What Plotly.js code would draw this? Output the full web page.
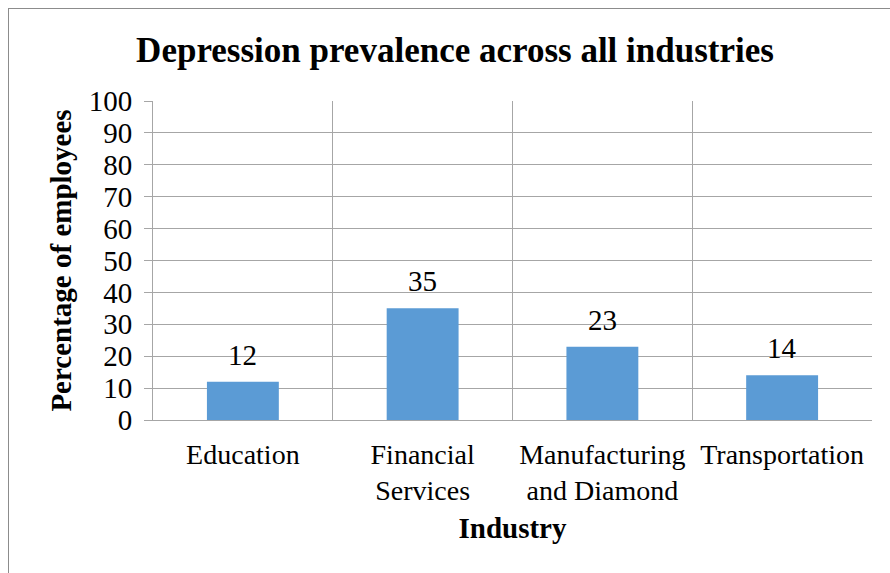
<!DOCTYPE html>
<html>
<head>
<meta charset="utf-8">
<script src="https://cdn.plot.ly/plotly-3.0.1.min.js"></script>
<style>
  html, body { margin: 0; padding: 0; background: #ffffff; }
  #frame { position: absolute; left: 8px; top: 8px; width: 900px; height: 600px;
           border-left: 1px solid #8c8c8c; border-top: 1px solid #8c8c8c; pointer-events: none; }
  #chart { width: 890px; height: 573px; }
</style>
</head>
<body>
<div id="chart"></div>
<div id="frame"></div>
<script>
const categories = ["Education", "Financial<br>Services", "Manufacturing<br>and Diamond", "Transportation"];
const values = [12, 35, 23, 14];
const yTickValues = [0, 10, 20, 30, 40, 50, 60, 70, 80, 90, 100];

const fontFamily = "Liberation Serif";
const gridColor = "#a6a6a6";

const trace = {
  type: "bar",
  x: categories,
  y: values,
  width: 0.4,
  marker: { color: "#5b9bd5", line: { width: 0 } },
  hoverinfo: "skip"
};

const annotations = categories.map((c, i) => ({
  x: c, y: values[i], xref: "x", yref: "y",
  text: String(values[i]), showarrow: false,
  yanchor: "bottom", yshift: 9,
  font: { family: fontFamily, size: 29, color: "#000" }
}));

const layout = {
  width: 890, height: 573,
  margin: { l: 153, r: 18, t: 101, b: 153 },
  paper_bgcolor: "#ffffff", plot_bgcolor: "#ffffff",
  font: { family: fontFamily, color: "#000" },
  showlegend: false,
  title: {
    text: "<b>Depression prevalence across all industries</b>",
    font: { family: fontFamily, size: 35, color: "#000" },
    xref: "container", x: 455 / 890, xanchor: "center",
    yref: "container", y: 1 - 50 / 573, yanchor: "middle"
  },
  xaxis: {
    type: "category",
    tickson: "boundaries",
    showgrid: true, gridcolor: gridColor, gridwidth: 1,
    showline: true, linecolor: gridColor, linewidth: 1,
    ticks: "", ticklabelstandoff: 9, tickangle: 0,
    tickfont: { family: fontFamily, size: 28, color: "#000" },
    title: { text: "<b>Industry</b>", font: { family: fontFamily, size: 29, color: "#000" }, standoff: 12 },
    fixedrange: true
  },
  yaxis: {
    range: [0, 100],
    tickvals: yTickValues,
    showgrid: true, gridcolor: gridColor, gridwidth: 1,
    showline: true, linecolor: gridColor, linewidth: 1,
    zeroline: false,
    ticks: "outside", ticklen: 8, tickcolor: gridColor, tickwidth: 1,
    ticklabelstandoff: 6,
    tickfont: { family: fontFamily, size: 29, color: "#000" },
    title: { text: "<b>Percentage of employees</b>", font: { family: fontFamily, size: 29, color: "#000" }, standoff: 8 },
    fixedrange: true
  },
  bargap: 0.6,
  annotations: annotations
};

Plotly.newPlot("chart", [trace], layout, { displayModeBar: false, staticPlot: true });
</script>
</body>
</html>
